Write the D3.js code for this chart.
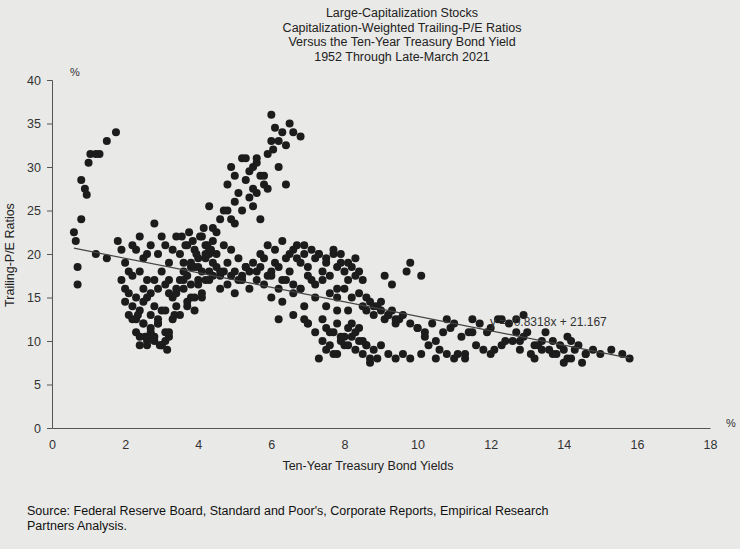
<!DOCTYPE html>
<html><head><meta charset="utf-8">
<script src="https://cdn.jsdelivr.net/npm/d3@7"></script>
<style>body{margin:0;background:#e9e9e7;font-family:"Liberation Sans",Arial,sans-serif}</style>
</head><body><svg id="c" width="740" height="549"></svg>
<script>
const titleLines=["Large-Capitalization Stocks","Capitalization-Weighted Trailing-P/E Ratios","Versus the Ten-Year Treasury Bond Yield","1952 Through Late-March 2021"];
const xTicks=[0,2,4,6,8,10,12,14,16,18];
const yTicks=[0,5,10,15,20,25,30,35,40];
const trendSlope=-0.8318, trendIntercept=21.167, trendRange=[0.6,15.8];
const yieldVals=[0.6,0.65,0.7,0.7,0.8,0.8,0.9,0.95,1.0,1.05,1.2,1.3,1.5,1.75,1.2,1.5,
1.8,1.9,2.0,2.1,2.2,2.3,2.4,2.5,2.6,2.7,2.8,2.9,3.0,3.1,3.2,3.3,3.4,1.9,2.0,2.1,2.2,2.3,2.4,2.5,2.6,2.7,2.8,2.9,3.0,3.1,3.2,3.3,3.4,2.0,2.2,2.4,2.6,2.8,3.0,3.2,3.4,2.1,2.3,2.5,2.7,2.9,3.1,3.3,
2.3,2.4,2.5,2.6,2.7,2.8,2.9,3.0,3.1,3.2,2.4,2.6,2.8,3.0,3.2,2.5,2.7,2.9,3.1,2.2,2.35,2.55,2.75,2.95,3.15,3.35,
3.5,3.6,3.7,3.8,3.9,4.0,4.1,4.2,4.3,4.4,3.5,3.6,3.7,3.8,3.9,4.0,4.1,4.2,4.3,4.4,3.55,3.65,3.75,3.85,3.95,4.05,4.15,4.25,4.35,3.6,3.8,4.0,4.2,4.4,3.7,3.9,4.1,4.3,3.5,3.7,3.9,4.1,3.4,3.6,3.8,4.0,4.2,
4.5,4.6,4.7,4.8,4.9,5.0,5.1,5.2,5.3,5.4,4.5,4.7,4.9,5.1,5.3,4.6,4.8,5.0,5.2,5.4,4.4,4.6,4.8,5.0,4.3,4.5,4.7,4.9,
4.8,4.9,5.0,5.1,5.2,5.3,5.4,5.5,5.6,5.7,5.8,5.9,6.0,6.1,6.2,6.3,6.4,6.5,6.6,6.8,5.0,5.2,5.4,5.6,5.8,5.9,6.0,6.05,6.2,5.5,5.7,5.3,5.5,5.6,6.4,4.6,4.3,
5.5,5.6,5.7,5.8,5.9,6.0,6.1,6.2,6.3,6.4,6.5,6.6,6.7,6.8,6.9,7.0,7.1,7.2,7.3,7.4,7.5,7.6,7.7,7.8,7.9,8.0,8.1,8.2,8.3,8.4,8.5,
5.6,5.8,6.0,6.2,6.4,6.6,6.8,7.0,7.2,7.4,7.6,7.8,8.0,8.2,8.4,5.7,5.9,6.1,6.3,6.5,6.7,6.9,7.1,7.3,7.5,7.7,7.9,8.1,8.3,6.0,6.3,6.6,6.9,7.2,7.5,7.8,8.1,6.2,6.6,7.0,7.4,7.8,6.8,6.9,
7.0,7.2,7.4,7.5,7.6,7.7,7.8,7.9,8.0,8.1,8.2,8.3,8.4,8.5,8.6,8.7,8.8,7.3,7.5,7.7,7.9,8.1,8.3,8.5,8.7,7.6,7.8,8.0,8.2,8.4,8.6,8.9,9.0,9.2,9.4,9.6,9.8,
8.5,8.6,8.7,8.8,8.9,9.0,9.1,9.2,9.3,9.4,9.5,8.6,8.8,9.0,9.2,9.4,9.6,9.8,10.0,10.2,9.1,9.3,9.7,10.1,9.8,
10.0,10.2,10.4,10.5,10.7,10.9,11.0,11.2,11.4,11.5,11.7,11.9,12.0,12.2,12.4,12.5,12.7,12.9,13.0,13.2,13.4,13.5,13.7,13.9,14.0,14.2,14.4,14.6,14.8,15.0,15.3,15.6,15.8,
10.1,10.6,11.1,11.6,12.1,12.6,13.1,13.6,14.1,14.6,10.3,10.8,11.3,11.8,12.3,12.8,13.3,13.8,14.3,10.5,11.0,12.0,12.7,13.2,14.0,11.5,12.9,13.4,14.1,10.8,11.3,12.3,12.8,13.7,14.2,14.5];
const peVals=[22.5,21.5,18.5,16.5,28.5,24,27.5,26.8,30.5,31.5,31.5,31.5,33,34,20,19.5,
21.5,20.5,19,18,21,20.5,22,19.5,20,21,23.5,20,22,21,19,20.5,22,17,16,15.5,17.5,15,18,16,17,15.5,17,16,18,16.5,17,15,16,14.5,14,13.5,15,14,13.5,15.5,14,13,12.5,14.5,13,12,13.5,12.5,
11,10.5,12,10,11.5,10,12,9.5,11,10.5,9.5,9.5,10.5,9.5,11,12,11,12.5,10,12.5,13,10.5,10.5,9.5,9,13,
20,19,21,18.5,20.5,19.5,22,21,20,21.5,17,18,17.5,19,18.5,17,18,19.5,18,17.5,22,21,22.5,21.5,20,22,23,21,20.5,16,15,16.5,17,19,14,15,15.5,17,13,14.5,13.5,15,15.5,17,16.5,18.5,20,
18.5,17.5,18,19,17.5,18,17,17.5,18.5,18,20,21,20.5,19.5,18.5,16,16.5,15.5,17,16,23,24,25,23.5,25.5,22.5,25,24,
28,30,29,27,31,28.5,29.5,30,31,29,28,27.5,36,34.5,33,34,32.5,35,34,33.5,26,25,26.5,27,29,31.5,33,32,30,25.5,24,31,27.5,30.5,28,18,20.5,
19,18,18.5,19.5,17.5,18,19,18.5,17,19.5,18,20.5,21,19,20,18.5,17,19.5,20,18,19,17.5,20,18.5,19,18,17,18.5,17.5,18,17,
17,16.5,17.5,16,17,16.5,16,17.5,16.5,17,15.5,16,16,15,15.5,20,21,20.5,21.5,20,19.5,21,20.5,20,19.5,20.5,20,19,19.5,15,14.5,15.5,14,15,14,15,13.5,12.5,13,12,12.5,13.5,16,12.5,
12,11,10,11.5,9.5,11,8.5,10,9.5,11.5,10.5,9,10,8.5,9.5,8,9,8,9,8.5,10.5,9.5,11,10,7.5,11,12,10.5,12,11.5,9.5,8,9.5,8.5,8,8.5,8,
14,13.5,14.5,13,14,13.5,12.5,13,13.5,12,12.5,15,14,14.5,13,12.5,13,12,11.5,11,17.5,16.5,18,17.5,19,
11.5,10.5,12,10,11,11.5,12,10.5,11,12.5,12,11,11.5,12.5,10,12,11,10.5,11,9.5,10,11,10,9.5,9,10,9.5,8.5,9,8.5,9,8.5,8,
8.5,9,8.5,9.5,9,10,8.5,9,8,8.5,9.5,8.5,8.5,9,9.5,10,9.5,8.5,9,8,8,8.5,12.5,8,7.5,11,13,9,10.5,12.5,8,12.5,9,8.5,8,7.5];
const sourceLines=["Source: Federal Reserve Board, Standard and Poor's, Corporate Reports, Empirical Research","Partners Analysis."];

const svg=d3.select("#c");
const x=d3.scaleLinear().domain([0,18]).range([52,710]);
const y=d3.scaleLinear().domain([0,40]).range([428,80]);
svg.append("g").selectAll("text").data(titleLines).join("text")
 .attr("x",402).attr("y",(d,i)=>17+i*14.5).attr("text-anchor","middle").attr("font-size",12.5).attr("fill","#222").text(d=>d);
const ax=svg.append("g").attr("transform","translate(0,428)").call(d3.axisBottom(x).tickValues(xTicks).tickSize(0).tickPadding(12));
ax.select(".domain").attr("stroke","#555");
ax.selectAll("text").attr("font-size",12.5).attr("fill","#333").attr("font-family","Liberation Sans, Arial");
const ay=svg.append("g").attr("transform","translate(52,0)").call(d3.axisLeft(y).tickValues(yTicks).tickSize(5).tickPadding(6));
ay.select(".domain").attr("stroke","#555");ay.selectAll("line").attr("stroke","#555");
ay.selectAll("text").attr("font-size",12.5).attr("fill","#333").attr("font-family","Liberation Sans, Arial");
svg.append("text").attr("x",70).attr("y",76).attr("font-size",11).attr("fill","#333").text("%");
svg.append("text").attr("x",726).attr("y",427).attr("font-size",11).attr("fill","#333").text("%");
svg.append("text").attr("x",368).attr("y",470).attr("text-anchor","middle").attr("font-size",12.5).attr("fill","#222").text("Ten-Year Treasury Bond Yields");
svg.append("text").attr("transform","translate(14,255) rotate(-90)").attr("text-anchor","middle").attr("font-size",12.5).attr("fill","#222").text("Trailing-P/E Ratios");
const pts=yieldVals.map((v,i)=>[v,peVals[i]]);
svg.append("g").selectAll("circle").data(pts).join("circle")
 .attr("cx",d=>x(d[0])).attr("cy",d=>y(d[1])).attr("r",4).attr("fill","#1c1c1c");
svg.append("line").attr("x1",x(trendRange[0])).attr("y1",y(trendSlope*trendRange[0]+trendIntercept))
 .attr("x2",x(trendRange[1])).attr("y2",y(trendSlope*trendRange[1]+trendIntercept)).attr("stroke","#444").attr("stroke-width",1.2);
svg.append("text").attr("x",490).attr("y",326).attr("font-size",12).attr("fill","#333").text("y = -0.8318x + 21.167");
svg.append("g").selectAll("text").data(sourceLines).join("text")
 .attr("x",27).attr("y",(d,i)=>515+i*15).attr("font-size",12.5).attr("fill","#111").text(d=>d);
</script></body></html>
